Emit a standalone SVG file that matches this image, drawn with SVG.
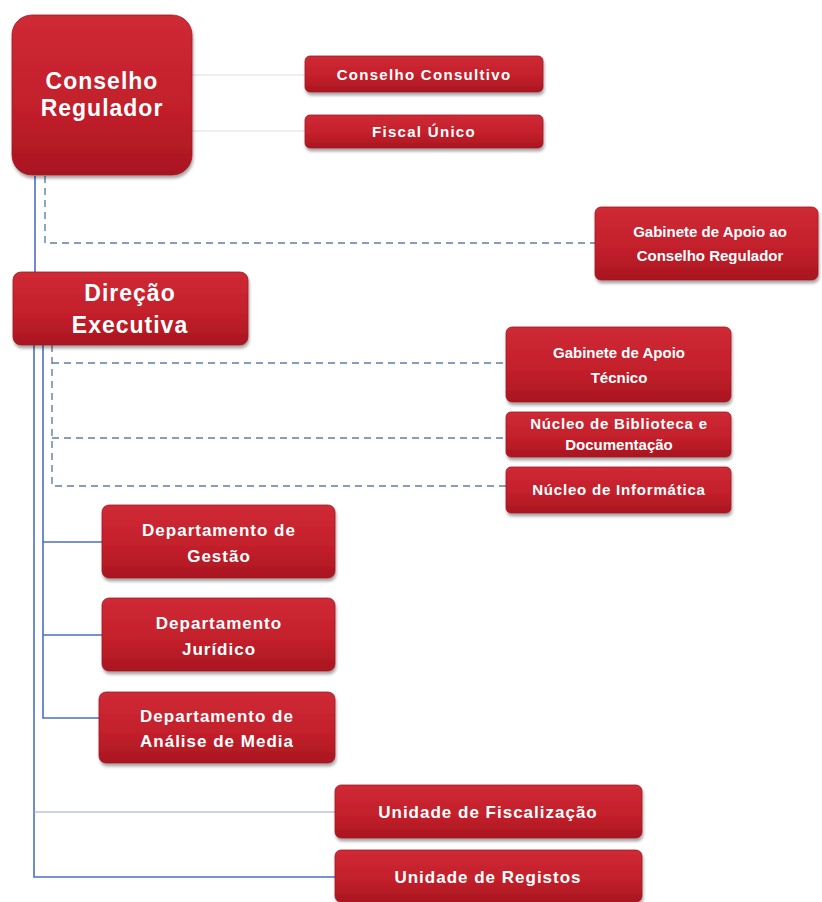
<svg xmlns="http://www.w3.org/2000/svg" width="822" height="902" viewBox="0 0 822 902">
<defs>
<linearGradient id="red" x1="0" y1="0" x2="0" y2="1">
<stop offset="0" stop-color="#cf2a35"/>
<stop offset="0.6" stop-color="#c21f2b"/>
<stop offset="1" stop-color="#a8161f"/>
</linearGradient>
<filter id="sh" x="-10%" y="-10%" width="125%" height="135%">
<feGaussianBlur in="SourceAlpha" stdDeviation="1.8"/>
<feOffset dx="1" dy="3" result="b"/>
<feComponentTransfer><feFuncA type="linear" slope="0.35"/></feComponentTransfer>
<feMerge><feMergeNode/><feMergeNode in="SourceGraphic"/></feMerge>
</filter>
</defs>
<style>
.box{fill:url(#red);stroke:#9e1a22;stroke-width:0.8;filter:url(#sh)}
.t{fill:#ffffff;font-family:"Liberation Sans",Arial,sans-serif;font-weight:bold;text-anchor:middle}
.big{font-size:23px;letter-spacing:1px}
.s15{font-size:15px}
.s17{font-size:17px;letter-spacing:1px}
.solid{stroke:#4a70c2;stroke-width:1.6;fill:none}
.dash{stroke:#5f7ea6;stroke-width:1.4;stroke-dasharray:7 5;fill:none}
.faint{stroke:#dcdde3;stroke-width:1;fill:none}
.thin{stroke:#98a6cf;stroke-width:1;fill:none}
</style>
<rect width="822" height="902" fill="#ffffff"/>
<g id="connectors">
<line class="faint" x1="192" y1="75" x2="305" y2="75"/>
<line class="faint" x1="192" y1="131" x2="305" y2="131"/>
<line class="solid" x1="35" y1="176" x2="35" y2="272"/>
<polyline class="dash" points="45,176 45,243 595,243"/>
<polyline class="solid" points="34,345 34,877 335,877"/>
<line class="thin" x1="34" y1="812" x2="335" y2="812"/>
<polyline class="solid" points="43,345 43,718 99,718"/>
<line class="solid" x1="43" y1="542" x2="102" y2="542"/>
<line class="solid" x1="43" y1="635" x2="102" y2="635"/>
<polyline class="dash" points="52,345 52,486 506,486"/>
<line class="dash" x1="52" y1="363" x2="506" y2="363"/>
<line class="dash" x1="52" y1="438" x2="506" y2="438"/>
</g>
<g id="conselho-regulador">
<rect class="box" x="12" y="15" width="180" height="160" rx="20"/>
<text class="t big" x="102" y="89">Conselho</text>
<text class="t big" x="102" y="116">Regulador</text>
</g>
<g id="conselho-consultivo">
<rect class="box" x="305" y="56" width="238" height="36" rx="5"/>
<text class="t s15" x="424" y="80" style="letter-spacing:1.3px">Conselho Consultivo</text>
</g>
<g id="fiscal-unico">
<rect class="box" x="305" y="115" width="238" height="33" rx="5"/>
<text class="t s15" x="424" y="137" style="letter-spacing:1.3px">Fiscal Único</text>
</g>
<g id="gabinete-cr">
<rect class="box" x="595" y="207" width="223" height="73" rx="6"/>
<text class="t s15" x="710" y="237">Gabinete de Apoio ao</text>
<text class="t s15" x="710" y="261">Conselho Regulador</text>
</g>
<g id="direcao-executiva">
<rect class="box" x="13" y="272" width="235" height="73" rx="8"/>
<text class="t big" x="130" y="301">Direção</text>
<text class="t big" x="130" y="333">Executiva</text>
</g>
<g id="gabinete-tecnico">
<rect class="box" x="506" y="327" width="225" height="75" rx="6"/>
<text class="t s15" x="619" y="358">Gabinete de Apoio</text>
<text class="t s15" x="619" y="383">Técnico</text>
</g>
<g id="nucleo-biblioteca">
<rect class="box" x="506" y="412" width="225" height="45" rx="5"/>
<text class="t s15" x="619" y="429" style="letter-spacing:0.8px">Núcleo de Biblioteca e</text>
<text class="t s15" x="619" y="450">Documentação</text>
</g>
<g id="nucleo-informatica">
<rect class="box" x="506" y="467" width="225" height="46" rx="5"/>
<text class="t s15" x="619" y="495" style="letter-spacing:0.8px">Núcleo de Informática</text>
</g>
<g id="dept-gestao">
<rect class="box" x="102" y="505" width="233" height="73" rx="7"/>
<text class="t s17" x="219" y="536">Departamento de</text>
<text class="t s17" x="219" y="562">Gestão</text>
</g>
<g id="dept-juridico">
<rect class="box" x="102" y="598" width="233" height="73" rx="7"/>
<text class="t s17" x="219" y="629">Departamento</text>
<text class="t s17" x="219" y="655">Jurídico</text>
</g>
<g id="dept-analise">
<rect class="box" x="99" y="692" width="236" height="71" rx="7"/>
<text class="t s17" x="217" y="722">Departamento de</text>
<text class="t s17" x="217" y="747">Análise de Media</text>
</g>
<g id="unidade-fiscalizacao">
<rect class="box" x="335" y="785" width="307" height="53" rx="6"/>
<text class="t s17" x="488" y="818">Unidade de Fiscalização</text>
</g>
<g id="unidade-registos">
<rect class="box" x="335" y="850" width="307" height="52" rx="6"/>
<text class="t s17" x="488" y="883">Unidade de Registos</text>
</g>
</svg>
